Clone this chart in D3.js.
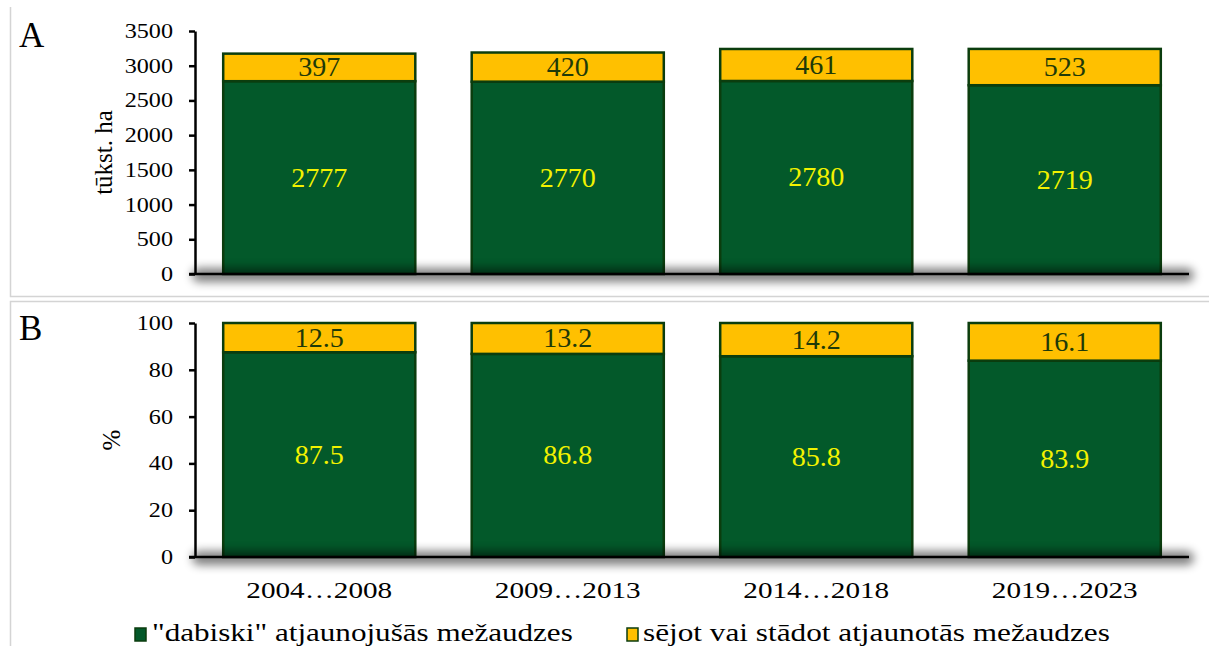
<!DOCTYPE html>
<html>
<head>
<meta charset="utf-8">
<script src="https://cdn.jsdelivr.net/npm/d3@7"></script>
<style>
  html, body { margin: 0; padding: 0; background: #fff; }
  svg { display: block; font-family: "Liberation Serif", "Times New Roman", serif; }
</style>
</head>
<body>
<svg id="chart" width="1209" height="646"></svg>
<script>
// Forest regeneration by period
const periods = ["2004…2008", "2009…2013", "2014…2018", "2019…2023"];
const naturalArea = [2777, 2770, 2780, 2719];   // thousand ha
const plantedArea = [397, 420, 461, 523];       // thousand ha
const naturalPct = [87.5, 86.8, 85.8, 83.9];
const plantedPct = [12.5, 13.2, 14.2, 16.1];
const ticksA = [0, 500, 1000, 1500, 2000, 2500, 3000, 3500];
const ticksB = [0, 20, 40, 60, 80, 100];
const seriesNames = ["\"dabiski\" atjaunojušās mežaudzes", "sējot vai stādot atjaunotās mežaudzes"];

const GREEN = "#03592a";
const YELLOW = "#ffc000";
const EDGE = "#0b3d0e";

const svg = d3.select("#chart");

// blur filter for the axis shadow
const defs = svg.append("defs");
defs.append("filter").attr("id", "shade")
  .attr("x", "-10%").attr("y", "-200%").attr("width", "120%").attr("height", "500%")
  .append("feGaussianBlur").attr("stdDeviation", 5);

// panel frames
const frame = svg.append("g").attr("stroke", "#d4d4d4").attr("stroke-width", 1.5).attr("fill", "none");
frame.append("path").attr("d", "M10.5,7 V296.5 H1209");
frame.append("path").attr("d", "M1209,301.5 H10.5 V646");

const x = d3.scaleBand().domain(periods).range([195, 1189]).paddingInner(0.227).paddingOuter(0.1135);

// text with a fixed horizontal stretch
function stretched(g, txt, px, py, size, sx, anchor, fill) {
  return g.append("text")
    .attr("transform", `translate(${px},${py}) scale(${sx},1)`)
    .attr("text-anchor", anchor)
    .attr("font-size", size)
    .attr("fill", fill)
    .text(txt);
}

// text stretched horizontally to fill a given width
function fitted(g, txt, px, py, size, width, anchor) {
  const t = g.append("text")
    .attr("text-anchor", anchor)
    .attr("font-size", size)
    .attr("fill", "#000")
    .text(txt);
  const w = t.node().getComputedTextLength();
  t.attr("transform", `translate(${px},${py}) scale(${width / w},1)`);
  return t;
}

function panel(opts) {
  const g = svg.append("g");
  const y = d3.scaleLinear().domain([0, opts.max]).range([opts.y0, opts.y1]);

  const rows = periods.map((p, i) => ({ p, a: opts.lower[i], b: opts.upper[i] }));

  // lower (natural) segments
  g.selectAll("rect.low").data(rows).join("rect")
    .attr("x", d => x(d.p)).attr("width", x.bandwidth())
    .attr("y", d => y(d.a)).attr("height", d => y(0) - y(d.a))
    .attr("fill", GREEN).attr("stroke", EDGE).attr("stroke-width", 2.5);
  // upper (planted) segments
  g.selectAll("rect.up").data(rows).join("rect")
    .attr("x", d => x(d.p)).attr("width", x.bandwidth())
    .attr("y", d => y(d.a + d.b)).attr("height", d => y(d.a) - y(d.a + d.b))
    .attr("fill", YELLOW).attr("stroke", EDGE).attr("stroke-width", 2.5);

  // soft shadow along the category axis
  g.append("rect")
    .attr("x", 192).attr("width", 1002)
    .attr("y", y(0) - 6).attr("height", 14)
    .attr("rx", 7)
    .attr("fill", "#000").attr("opacity", 0.5)
    .attr("filter", "url(#shade)");

  // value labels
  rows.forEach(d => {
    const cx = x(d.p) + x.bandwidth() / 2;
    stretched(g, opts.fmt(d.a), cx, (y(0) + y(d.a)) / 2 + 9, 27, 1.04, "middle", "#f2f200");
    stretched(g, opts.fmt(d.b), cx, (y(d.a) + y(d.a + d.b)) / 2 + 9, 27, 1.04, "middle", "#1e3a08");
  });

  // y axis
  const axis = d3.axisLeft(y).tickValues(opts.ticks).tickSize(6).tickSizeOuter(0).tickFormat(d => "");
  const ag = g.append("g").attr("transform", "translate(195,0)").call(axis);
  ag.select(".domain").attr("stroke", "#000").attr("stroke-width", 2.5);
  ag.selectAll(".tick line").attr("stroke", "#000").attr("stroke-width", 2.5);
  opts.ticks.forEach(t => {
    stretched(g, String(t), 173, y(t) + 7, 21, 1.15, "end", "#000");
  });

  // x axis baseline
  g.append("line").attr("x1", 189).attr("x2", 1189)
    .attr("y1", y(0)).attr("y2", y(0))
    .attr("stroke", "#000").attr("stroke-width", 2.5);

  // axis title
  g.append("text")
    .attr("transform", `translate(${opts.titleX},${(opts.y0 + opts.y1) / 2}) rotate(-90)`)
    .attr("text-anchor", "middle").attr("font-size", 25).attr("fill", "#000")
    .text(opts.title);

  // panel letter
  g.append("text").attr("x", 19).attr("y", opts.letterY)
    .attr("font-size", 35).attr("fill", "#000").text(opts.letter);
  return { g, y };
}

panel({ max: 3500, y0: 274, y1: 31, lower: naturalArea, upper: plantedArea, ticks: ticksA,
        fmt: d => String(d), title: "tūkst. ha", titleX: 112, letter: "A", letterY: 47 });
panel({ max: 100, y0: 557, y1: 323, lower: naturalPct, upper: plantedPct, ticks: ticksB,
        fmt: d => d.toFixed(1), title: "%", titleX: 120, letter: "B", letterY: 340 });

// category labels
const cats = svg.append("g");
periods.forEach(p => {
  fitted(cats, p, x(p) + x.bandwidth() / 2, 598, 23, 146, "middle");
});

// legend
const legend = [
  { name: seriesNames[0], color: GREEN, sx: 135, tx: 152, len: 421 },
  { name: seriesNames[1], color: YELLOW, sx: 627, tx: 643, len: 467 }
];
const lg = svg.append("g");
legend.forEach(l => {
  lg.append("rect").attr("x", l.sx).attr("y", 628).attr("width", 11).attr("height", 13)
    .attr("fill", l.color).attr("stroke", EDGE).attr("stroke-width", 1.5);
  fitted(lg, l.name, l.tx, 641, 25, l.len, "start");
});
</script>
</body>
</html>
